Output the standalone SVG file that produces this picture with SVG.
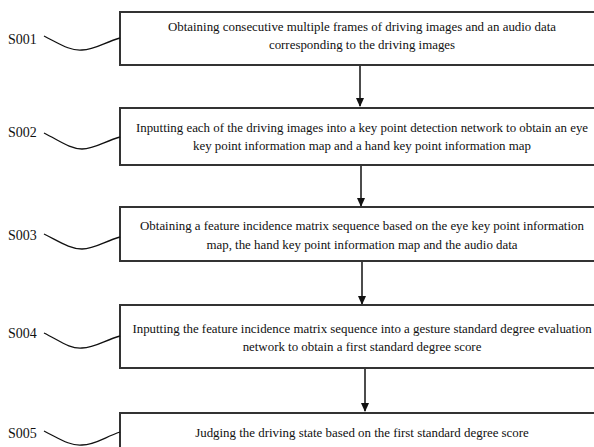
<svg xmlns="http://www.w3.org/2000/svg" width="594" height="447" viewBox="0 0 594 447">
<style>
.box{fill:#fff;stroke:#333;stroke-width:2}
.t{font-family:"Liberation Serif","Times New Roman",serif;font-size:12.9px;fill:#111;text-anchor:middle}
.lbl{font-family:"Liberation Serif","Times New Roman",serif;font-size:14px;fill:#111}
.c{fill:none;stroke:#111;stroke-width:1.3}
.a{fill:none;stroke:#111;stroke-width:1.5}
</style>
<defs>
<marker id="ah" markerWidth="10" markerHeight="10" refX="8" refY="5" orient="auto" markerUnits="userSpaceOnUse">
<path d="M0,1 L9,5 L0,9 Z" fill="#111"/>
</marker>
</defs>
<rect width="594" height="447" fill="#fff"/>
<g id="connectors">
<line class="a" x1="360" y1="65" x2="360" y2="106" marker-end="url(#ah)"/>
<line class="a" x1="361" y1="165" x2="361" y2="206" marker-end="url(#ah)"/>
<line class="a" x1="362" y1="261" x2="362" y2="304" marker-end="url(#ah)"/>
<line class="a" x1="365" y1="368" x2="365" y2="411" marker-end="url(#ah)"/>
</g>
<g id="S001">
<rect class="box" x="120" y="12" width="490" height="53"/>
<text class="t" x="362" y="31">Obtaining consecutive multiple frames of driving images and an audio data</text>
<text class="t" x="362" y="49">corresponding to the driving images</text>
<text class="lbl" x="8" y="44">S001</text>
<path class="c" d="M44,36 C60,44 70,51 82,50 C95,50 105,42 120,38"/>
</g>
<g id="S002">
<rect class="box" x="120" y="108" width="490" height="57"/>
<text class="t" x="362" y="132">Inputting each of the driving images into a key point detection network to obtain an eye</text>
<text class="t" x="362" y="150">key point information map and a hand key point information map</text>
<text class="lbl" x="8" y="137">S002</text>
<path class="c" d="M44,133 C60,141 70,149 82,149 C95,149 105,141 120,137"/>
</g>
<g id="S003">
<rect class="box" x="120" y="207" width="490" height="54"/>
<text class="t" x="362" y="230">Obtaining a feature incidence matrix sequence based on the eye key point information</text>
<text class="t" x="362" y="249">map, the hand key point information map and the audio data</text>
<text class="lbl" x="8" y="240">S003</text>
<path class="c" d="M44,234 C60,242 70,249 82,249 C95,249 105,241 120,237"/>
</g>
<g id="S004">
<rect class="box" x="120" y="305" width="490" height="63"/>
<text class="t" x="362" y="333">Inputting the feature incidence matrix sequence into a gesture standard degree evaluation</text>
<text class="t" x="362" y="351">network to obtain a first standard degree score</text>
<text class="lbl" x="8" y="338">S004</text>
<path class="c" d="M44,333 C60,341 70,349 82,348 C95,348 105,340 120,336"/>
</g>
<g id="S005">
<rect class="box" x="120" y="413" width="490" height="60"/>
<text class="t" x="362" y="437">Judging the driving state based on the first standard degree score</text>
<text class="lbl" x="8" y="438">S005</text>
<path class="c" d="M44,431 C60,439 70,446 82,445 C95,445 105,437 120,432"/>
</g>
</svg>
